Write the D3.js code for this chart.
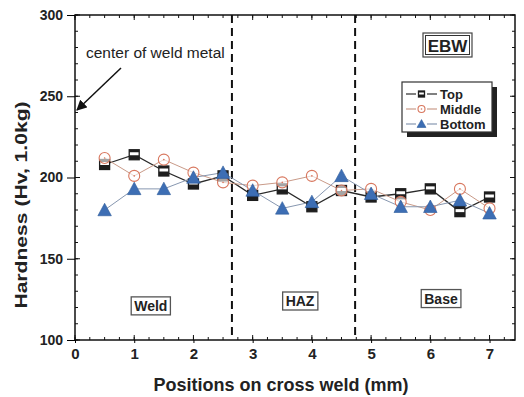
<!DOCTYPE html>
<html>
<head>
<meta charset="utf-8">
<script src="https://cdn.jsdelivr.net/npm/d3@7"></script>
<style>
body { margin: 0; background: #fff; }
svg text { font-family: "Liberation Sans", Arial, sans-serif; font-weight: bold; }
</style>
</head>
<body>
<svg id="chart" width="524" height="397"></svg>
<script>
// data
var positions = [0.5, 1, 1.5, 2, 2.5, 3, 3.5, 4, 4.5, 5, 5.5, 6, 6.5, 7];
var topVals = [208, 214, 204, 196, 201, 189, 193, 182, 192, 188, 190, 193, 179, 188];
var middleVals = [212, 201, 211, 203, 197, 195, 197, 201, 192, 193, 185, 180, 193, 181];
var bottomVals = [180, 193, 193, 200, 203, 192, 181, 185, 201, 190, 182, 182, 186, 178];
var seriesNames = ["Top", "Middle", "Bottom"];
var zoneBounds = [2.65, 4.73];
var zoneLabels = [{ name: "Weld", x: 1.28, y: 121 }, { name: "HAZ", x: 3.8, y: 124 }, { name: "Base", x: 6.18, y: 125.5 }];
var xTicks = [0, 1, 2, 3, 4, 5, 6, 7];
var yTicks = [100, 150, 200, 250, 300];

var svg = d3.select("#chart");
var mLeft = 75, mRight = 515, mTop = 15, mBottom = 340;

var x = d3.scaleLinear().domain([0, 7.43]).range([mLeft, mRight]);
var y = d3.scaleLinear().domain([100, 300]).range([mBottom, mTop]);

var colors = { Top: "#1e1e1e", Middle: "#d8775e", Bottom: "#3d6eb4" };
var lineColors = { Top: "#2a2a2a", Middle: "#c99a88", Bottom: "#8797b0" };

// frame
svg.append("rect")
    .attr("x", mLeft).attr("y", mTop)
    .attr("width", mRight - mLeft).attr("height", mBottom - mTop)
    .attr("fill", "none").attr("stroke", "#111").attr("stroke-width", 1.5);

// inner ticks on all four sides
var minorX = d3.range(0, 7.43, 0.25);
var minorY = d3.range(100, 301, 10);
function tickSet(vals, isX, len) {
    vals.forEach(function(v) {
        if (isX) {
            svg.append("line").attr("x1", x(v)).attr("x2", x(v)).attr("y1", mBottom).attr("y2", mBottom - len).attr("stroke", "#111");
            svg.append("line").attr("x1", x(v)).attr("x2", x(v)).attr("y1", mTop).attr("y2", mTop + len).attr("stroke", "#111");
        } else {
            svg.append("line").attr("y1", y(v)).attr("y2", y(v)).attr("x1", mLeft).attr("x2", mLeft + len).attr("stroke", "#111");
            svg.append("line").attr("y1", y(v)).attr("y2", y(v)).attr("x1", mRight).attr("x2", mRight - len).attr("stroke", "#111");
        }
    });
}
tickSet(minorX, true, 3);
tickSet(minorY, false, 3);
tickSet(xTicks, true, 5);
tickSet(yTicks, false, 5);

// axes labels via d3 axes (outer ticks)
svg.append("g").attr("transform", "translate(0," + mBottom + ")")
    .call(d3.axisBottom(x).tickValues(xTicks).tickSize(3).tickFormat(d3.format("d")))
    .call(function(g) { g.select(".domain").remove(); })
    .selectAll("text").attr("font-size", 15).attr("font-family", "Liberation Sans, Arial").attr("font-weight", "bold").attr("fill", "#222").attr("dy", "0.85em");
svg.append("g").attr("transform", "translate(" + mLeft + ",0)")
    .call(d3.axisLeft(y).tickValues(yTicks).tickSize(8))
    .call(function(g) { g.select(".domain").remove(); })
    .selectAll("text").attr("font-size", 14).attr("font-family", "Liberation Sans, Arial").attr("font-weight", "bold").attr("fill", "#222").attr("x", -12);

svg.append("text").attr("x", 281).attr("y", 391).attr("text-anchor", "middle")
    .attr("font-size", 18).attr("fill", "#222").text("Positions on cross weld (mm)");
svg.append("text").attr("transform", "translate(27,205) rotate(-90) scale(1.28,1)")
    .attr("text-anchor", "middle").attr("font-size", 16.5).attr("fill", "#222").text("Hardness (Hv, 1.0kg)");

// zone boundaries
zoneBounds.forEach(function(b) {
    svg.append("line").attr("x1", x(b)).attr("x2", x(b)).attr("y1", mTop).attr("y2", mBottom)
        .attr("stroke", "#111").attr("stroke-width", 2).attr("stroke-dasharray", "8,5");
});

// zone labels
zoneLabels.forEach(function(z) {
    var g = svg.append("g");
    var t = g.append("text").attr("x", x(z.x)).attr("y", y(z.y) + 5).attr("text-anchor", "middle")
        .attr("font-size", 14).attr("fill", "#222").text(z.name);
    var bb = t.node().getBBox();
    g.insert("rect", "text").attr("x", bb.x - 3).attr("y", bb.y - 1).attr("width", bb.width + 6).attr("height", bb.height + 2)
        .attr("fill", "#fff").attr("stroke", "#555").attr("stroke-width", 1.3);
});

// EBW label
svg.append("rect").attr("x", 423).attr("y", 33).attr("width", 49).attr("height", 24).attr("fill", "#fff").attr("stroke", "#444").attr("stroke-width", 1.2);
svg.append("rect").attr("x", 425.5).attr("y", 35.5).attr("width", 44).attr("height", 19).attr("fill", "#fff").attr("stroke", "#333").attr("stroke-width", 1);
svg.append("text").attr("x", 447.5).attr("y", 51.5).attr("text-anchor", "middle").attr("font-size", 17).attr("fill", "#222").text("EBW");

// annotation
svg.append("text").attr("x", 86).attr("y", 58).attr("font-size", 15.5)
    .style("font-weight", "normal").attr("fill", "#222").text("center of weld metal");
svg.append("defs").append("marker").attr("id", "arr").attr("viewBox", "0 0 10 10").attr("refX", 9).attr("refY", 5)
    .attr("markerWidth", 7).attr("markerHeight", 7).attr("orient", "auto")
    .append("path").attr("d", "M0,0L10,5L0,10z").attr("fill", "#111");
svg.append("line").attr("x1", 121).attr("y1", 68).attr("x2", 77).attr("y2", 110)
    .attr("stroke", "#111").attr("stroke-width", 1.5).attr("marker-end", "url(#arr)");

// series
var series = [
    { name: "Top", values: topVals },
    { name: "Middle", values: middleVals },
    { name: "Bottom", values: bottomVals }
];
var line = d3.line().x(function(d) { return x(d[0]); }).y(function(d) { return y(d[1]); });

function drawMarker(g, name, cx, cy, s) {
    if (name === "Top") {
        g.append("rect").attr("x", cx - s).attr("y", cy - s).attr("width", 2 * s).attr("height", 2 * s)
            .attr("fill", "#fff").attr("stroke", colors.Top).attr("stroke-width", 1.3);
        g.append("rect").attr("x", cx - s).attr("y", cy + 0.5).attr("width", 2 * s).attr("height", s - 0.5).attr("fill", colors.Top);
        g.append("rect").attr("x", cx - s).attr("y", cy - s).attr("width", 2 * s).attr("height", s * 0.5).attr("fill", colors.Top);
    } else if (name === "Middle") {
        g.append("circle").attr("cx", cx).attr("cy", cy).attr("r", s + 0.5)
            .attr("fill", "#fff").attr("fill-opacity", 0.6).attr("stroke", colors.Middle).attr("stroke-width", 1.1);
        g.append("circle").attr("cx", cx).attr("cy", cy).attr("r", 0.8).attr("fill", colors.Middle);
    } else {
        var h = s * 1.15;
        g.append("path").attr("d", "M" + cx + "," + (cy - h - 1) + "L" + (cx + h + 1) + "," + (cy + h) + "L" + (cx - h - 1) + "," + (cy + h) + "Z")
            .attr("fill", colors.Bottom).attr("stroke", "#2c5a9a").attr("stroke-width", 0.6);
    }
}

series.forEach(function(s) {
    var pts = positions.map(function(p, i) { return [p, s.values[i]]; });
    svg.append("path").datum(pts).attr("d", line).attr("fill", "none")
        .attr("stroke", lineColors[s.name]).attr("stroke-width", s.name === "Top" ? 1.3 : 1);
});
series.forEach(function(s) {
    var g = svg.append("g");
    positions.forEach(function(p, i) { drawMarker(g, s.name, x(p), y(s.values[i]), 5); });
});

// legend
var lg = svg.append("g");
lg.append("rect").attr("x", 407).attr("y", 87).attr("width", 90).attr("height", 50).attr("fill", "#222");
lg.append("rect").attr("x", 402).attr("y", 82).attr("width", 90).attr("height", 50).attr("fill", "#fff").attr("stroke", "#333").attr("stroke-width", 1.2);
seriesNames.forEach(function(n, i) {
    var ly = 94 + i * 15;
    lg.append("line").attr("x1", 406).attr("x2", 437).attr("y1", ly).attr("y2", ly).attr("stroke", lineColors[n]).attr("stroke-width", 1.2);
    lg.append("rect").attr("x", 416).attr("y", ly - 4).attr("width", 11).attr("height", 8).attr("fill", "#fff");
    drawMarker(lg, n, 421.5, ly, 3);
    lg.append("text").attr("x", 440).attr("y", ly + 5).attr("font-size", 13).attr("fill", "#222").text(n);
});
</script>
</body>
</html>
